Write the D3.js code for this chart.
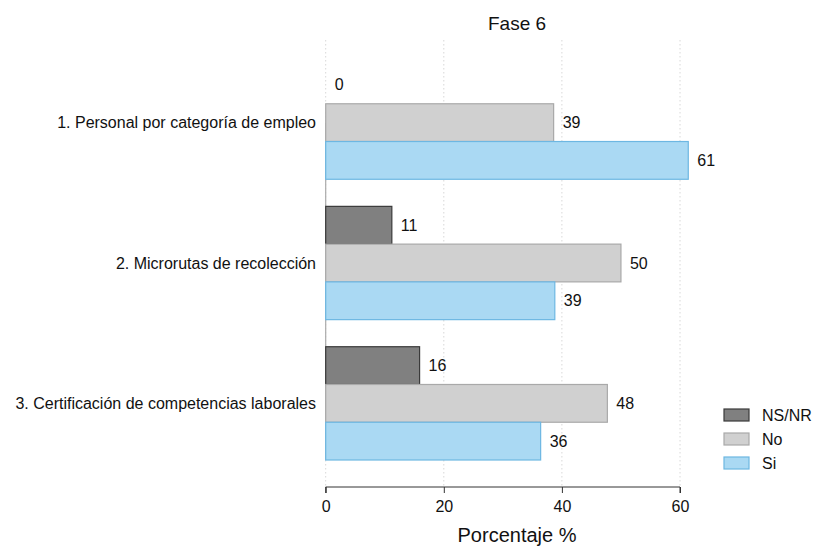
<!DOCTYPE html>
<html><head><meta charset="utf-8">
<script src="https://cdn.jsdelivr.net/npm/d3@7"></script>
<style>body{margin:0;background:#fff;}svg{font-family:"Liberation Sans",Arial,sans-serif;}</style>
</head><body><svg id="c" width="813" height="546"></svg>
<script>
const categories = ["1. Personal por categoría de empleo","2. Microrutas de recolección","3. Certificación de competencias laborales"];
const seriesNames = ["NS/NR","No","Si"];
const nsnr = [0, 11.2, 15.9];
const no = [38.6, 50.0, 47.7];
const si = [61.4, 38.8, 36.4];
const xTicks = [0, 20, 40, 60];
const colors = {"NS/NR":{fill:"#808080",stroke:"#3a3a3a"},"No":{fill:"#d0d0d0",stroke:"#a9a9a9"},"Si":{fill:"#aad9f3",stroke:"#6db7e2"}};
const values = {"NS/NR":nsnr,"No":no,"Si":si};

const svg = d3.select("#c");
const x = d3.scaleLinear().domain([0,60]).range([325.7,680]);
const y0 = d3.scaleBand().domain(categories).range([66,460]).paddingInner(0.193).paddingOuter(0);
const y1 = d3.scaleBand().domain(seriesNames).range([0,y0.bandwidth()]);

// grid
svg.append("g").selectAll("line").data(xTicks).join("line")
  .attr("x1",d=>x(d)).attr("x2",d=>x(d)).attr("y1",40).attr("y2",487)
  .attr("stroke","#d8d8d8").attr("stroke-dasharray","1.5,2.5");

// y axis line
svg.append("line").attr("x1",x(0)).attr("x2",x(0)).attr("y1",y0(categories[0])+y1("No")+y1.bandwidth()/2).attr("y2",460).attr("stroke","#aaa").attr("stroke-width",1.2);

// bars
const g = svg.append("g");
categories.forEach((c,i)=>{
  seriesNames.forEach(s=>{
    const v = values[s][i];
    const yy = y0(c)+y1(s);
    if(v>0){
      g.append("rect").attr("x",x(0)).attr("y",yy).attr("width",x(v)-x(0)).attr("height",y1.bandwidth())
        .attr("fill",colors[s].fill).attr("stroke",colors[s].stroke).attr("stroke-width",1.2);
    }
    g.append("text").attr("x",x(v)+9).attr("y",yy+y1.bandwidth()/2).attr("dy","0.35em")
      .attr("font-size",16).attr("fill","#111").text(Math.round(v));
  });
  svg.append("text").attr("x",316).attr("y",y0(c)+y1("No")+y1.bandwidth()/2).attr("dy","0.35em")
    .attr("text-anchor","end").attr("font-size",16).attr("fill","#111").text(c);
});

// x axis
const ax = svg.append("g").attr("transform","translate(0,487)")
  .call(d3.axisBottom(x).tickValues(xTicks).tickSize(6).tickPadding(8));
ax.select(".domain").attr("stroke","#333").attr("d",`M${x(0)},6V0H${x(60)}V6`);
ax.selectAll(".tick line").attr("stroke","#333");
ax.selectAll("text").attr("font-size",16).attr("fill","#111").attr("font-family","Liberation Sans, Arial, sans-serif");

svg.append("text").attr("x",517).attr("y",542).attr("text-anchor","middle").attr("font-size",20).attr("fill","#111").text("Porcentaje %");
svg.append("text").attr("x",517).attr("y",30).attr("text-anchor","middle").attr("font-size",19).attr("fill","#111").text("Fase 6");

// legend
const lg = svg.append("g");
seriesNames.forEach((s,i)=>{
  const ly = 409 + i*24;
  lg.append("rect").attr("x",724).attr("y",ly).attr("width",25).attr("height",12)
    .attr("fill",colors[s].fill).attr("stroke",colors[s].stroke).attr("stroke-width",1.2);
  lg.append("text").attr("x",762).attr("y",ly+6).attr("dy","0.35em").attr("font-size",16).attr("fill","#111").text(s);
});
</script></body></html>
